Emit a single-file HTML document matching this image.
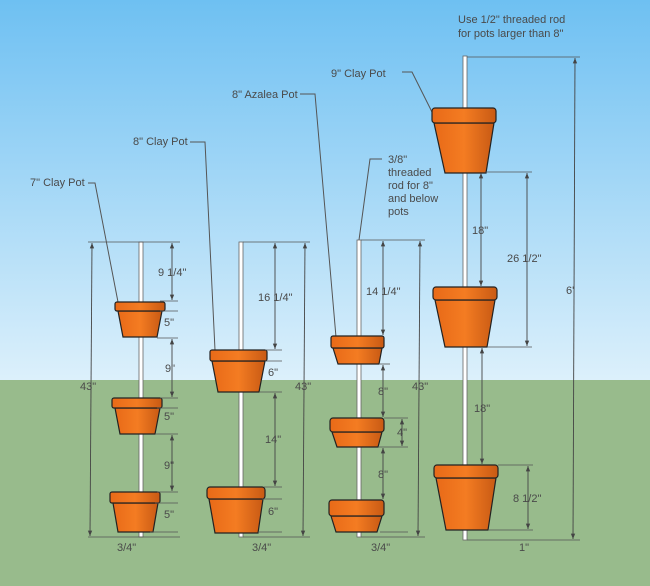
<!DOCTYPE html>
<html><head><style>
html,body{margin:0;padding:0;width:650px;height:586px;overflow:hidden}
svg text{font-family:"Liberation Sans",sans-serif;font-size:11px;fill:#4a4a4a}
</style></head><body>
<svg width="650" height="586" viewBox="0 0 650 586" xmlns="http://www.w3.org/2000/svg">
<defs>
<linearGradient id="sky" x1="0" y1="0" x2="0" y2="1">
<stop offset="0" stop-color="#6ec0f2"/><stop offset="1" stop-color="#dcf0fb"/></linearGradient>
<linearGradient id="pot" x1="0" y1="0" x2="1" y2="0">
<stop offset="0" stop-color="#e86a18"/><stop offset="0.5" stop-color="#f47c22"/><stop offset="1" stop-color="#c85a14"/></linearGradient>
<marker id="a" viewBox="0 0 10 10" refX="10" refY="5" markerWidth="6" markerHeight="6" orient="auto-start-reverse"><path d="M0,1 L10,5 L0,9z" fill="#444"/></marker>
</defs>
<rect width="650" height="380" fill="url(#sky)"/>
<rect y="380" width="650" height="206" fill="#98bb8c"/>
<g stroke="#555" fill="none" stroke-width="1">
<polyline points="88,183 95,183 118,302"/>
<polyline points="190,142 205,142 215,350"/>
<polyline points="300,94 315,94 336,337"/>
<polyline points="402,72 412,72 432,112"/>
<polyline points="382,159 370,159 359,240"/>
</g>
<g fill="#fff" stroke="#666" stroke-width="0.8">
<rect x="139" y="242" width="4" height="295"/>
<rect x="239" y="242" width="4" height="295"/>
<rect x="357" y="240" width="4" height="297"/>
<rect x="463" y="56" width="4" height="484"/>
</g>
<g stroke="#222" stroke-width="1.2" fill="url(#pot)">
<path d="M118,311 L162,311 L157,337 L123,337z"/><rect x="115" y="302" width="50" height="9" rx="2"/>
<path d="M115,408 L160,408 L155,434 L120,434z"/><rect x="112" y="398" width="50" height="10" rx="2"/>
<path d="M113,503 L158,503 L153,532 L118,532z"/><rect x="110" y="492" width="50" height="11" rx="2"/>
<path d="M212,361 L265,361 L259,392 L218,392z"/><rect x="210" y="350" width="57" height="11" rx="2"/>
<path d="M209,499 L263,499 L258,533 L215,533z"/><rect x="207" y="487" width="58" height="12" rx="3"/>
<path d="M333,348 L382,348 L379,364 L338,364z"/><rect x="331" y="336" width="53" height="12" rx="2"/>
<path d="M332,432 L382,432 L378,447 L337,447z"/><rect x="330" y="418" width="54" height="14" rx="3"/>
<path d="M331,516 L382,516 L377,532 L336,532z"/><rect x="329" y="500" width="55" height="16" rx="3"/>
<path d="M434,123 L494,123 L486,173 L445,173z"/><rect x="432" y="108" width="64" height="15" rx="3"/>
<path d="M435,300 L495,300 L487,347 L445,347z"/><rect x="433" y="287" width="64" height="13" rx="3"/>
<path d="M436,478 L496,478 L488,530 L446,530z"/><rect x="434" y="465" width="64" height="13" rx="3"/>
</g>
<g stroke="#555" stroke-width="0.8" fill="none">
<line x1="88" y1="242" x2="180" y2="242"/><line x1="88" y1="537" x2="180" y2="537"/>
<line x1="160" y1="301" x2="178" y2="301"/><line x1="160" y1="311" x2="178" y2="311"/><line x1="157" y1="338" x2="178" y2="338"/>
<line x1="160" y1="398" x2="178" y2="398"/><line x1="157" y1="408" x2="178" y2="408"/><line x1="155" y1="434" x2="178" y2="434"/>
<line x1="157" y1="492" x2="178" y2="492"/><line x1="155" y1="503" x2="178" y2="503"/><line x1="150" y1="532" x2="178" y2="532"/>
<line x1="243" y1="242" x2="310" y2="242"/><line x1="243" y1="537" x2="310" y2="537"/>
<line x1="265" y1="350" x2="282" y2="350"/><line x1="265" y1="361" x2="282" y2="361"/><line x1="260" y1="392" x2="282" y2="392"/>
<line x1="264" y1="487" x2="282" y2="487"/><line x1="262" y1="499" x2="282" y2="499"/><line x1="258" y1="532" x2="282" y2="532"/>
<line x1="361" y1="240" x2="425" y2="240"/><line x1="361" y1="537" x2="425" y2="537"/>
<line x1="380" y1="364" x2="390" y2="364"/><line x1="384" y1="418" x2="408" y2="418"/><line x1="378" y1="447" x2="408" y2="447"/>
<line x1="380" y1="532" x2="408" y2="532"/>
<line x1="467" y1="57" x2="580" y2="57"/><line x1="467" y1="540" x2="580" y2="540"/>
<line x1="485" y1="172" x2="532" y2="172"/><line x1="487" y1="347" x2="532" y2="347"/>
<line x1="498" y1="465" x2="533" y2="465"/><line x1="488" y1="530" x2="533" y2="530"/>
</g>
<g stroke="#444" stroke-width="0.9" marker-start="url(#a)" marker-end="url(#a)">
<line x1="92" y1="243" x2="90" y2="536"/>
<line x1="172" y1="243" x2="172" y2="300"/><line x1="172" y1="339" x2="172" y2="397"/><line x1="172" y1="435" x2="172" y2="491"/>
<line x1="305" y1="243" x2="303" y2="536"/>
<line x1="275" y1="243" x2="275" y2="349"/><line x1="275" y1="393" x2="275" y2="486"/>
<line x1="420" y1="241" x2="418" y2="536"/>
<line x1="383" y1="241" x2="383" y2="335"/><line x1="383" y1="365" x2="383" y2="417"/><line x1="383" y1="448" x2="383" y2="499"/>
<line x1="402" y1="419" x2="402" y2="446"/>
<line x1="575" y1="58" x2="573" y2="539"/>
<line x1="527" y1="173" x2="527" y2="346"/>
<line x1="481" y1="173" x2="481" y2="286"/><line x1="482" y1="348" x2="482" y2="464"/>
<line x1="528" y1="466" x2="528" y2="529"/>
</g>
<g>
<text x="30" y="186">7" Clay Pot</text>
<text x="133" y="145">8" Clay Pot</text>
<text x="232" y="98">8" Azalea Pot</text>
<text x="331" y="77">9" Clay Pot</text>
<text x="388" y="163">3/8"</text><text x="388" y="176">threaded</text><text x="388" y="189">rod for 8"</text><text x="388" y="202">and below</text><text x="388" y="215">pots</text>
<text x="458" y="23">Use 1/2" threaded rod</text><text x="458" y="37">for pots larger than 8"</text>
<text x="158" y="276">9 1/4"</text><text x="164" y="326">5"</text><text x="165" y="372">9"</text><text x="164" y="420">5"</text><text x="164" y="469">9"</text><text x="164" y="518">5"</text>
<text x="80" y="390">43"</text><text x="117" y="551">3/4"</text>
<text x="258" y="301">16 1/4"</text><text x="268" y="376">6"</text><text x="265" y="443">14"</text><text x="268" y="515">6"</text>
<text x="295" y="390">43"</text><text x="252" y="551">3/4"</text>
<text x="366" y="295">14 1/4"</text><text x="378" y="395">8"</text><text x="397" y="436">4"</text><text x="378" y="478">8"</text>
<text x="412" y="390">43"</text><text x="371" y="551">3/4"</text>
<text x="472" y="234">18"</text><text x="507" y="262">26 1/2"</text><text x="566" y="294">6'</text>
<text x="474" y="412">18"</text><text x="513" y="502">8 1/2"</text><text x="519" y="551">1"</text>
</g>
</svg>
</body></html>
